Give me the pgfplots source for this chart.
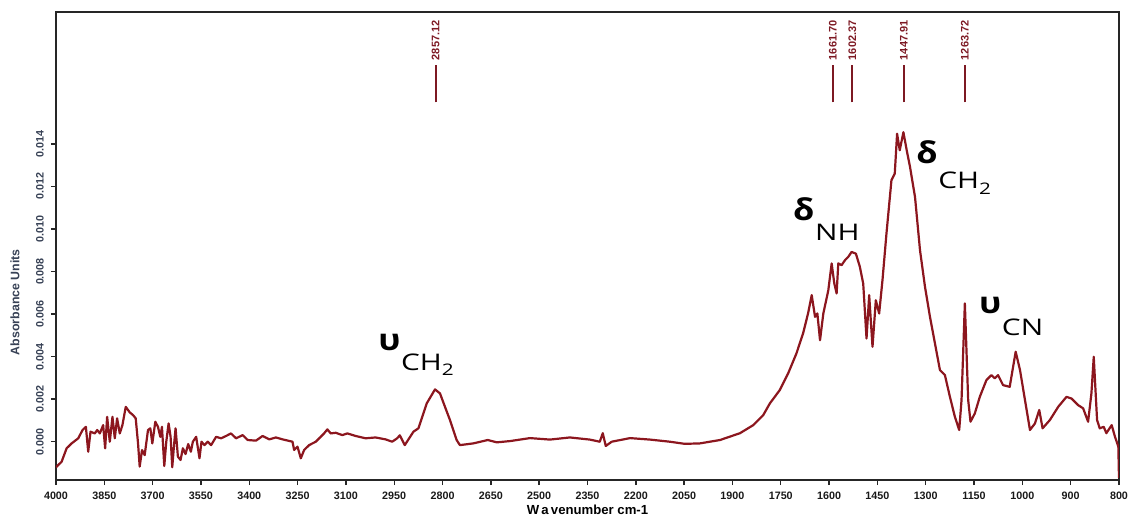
\documentclass[border=0pt]{standalone}
\usepackage{graphicx}
\usepackage{pgfplots}
\pgfplotsset{compat=1.18}
\usepackage{fontspec}
\setmainfont{Liberation Sans}
\newfontfamily\annfont{Open Sans}
\definecolor{spec}{RGB}{140,22,30}
\definecolor{pk}{RGB}{125,25,35}
\definecolor{slate}{RGB}{55,65,85}
\newcommand{\sub}[1]{\raisebox{-2.8bp}{\fontsize{8}{8}\selectfont #1}}
\newcommand{\ann}[3]{\scalebox{1.15}[1]{\annfont\fontsize{15}{15}\selectfont\bfseries #1}\hspace{0.3bp}\raisebox{-#3}{\scalebox{1.3}[1]{\annfont\fontsize{11.5}{11.5}\selectfont #2}}}
\begin{document}
\begin{tikzpicture}
\begin{axis}[
  at={(0,0)}, anchor=south west,
  scale only axis, width=531.5bp, height=234bp,
  x dir=reverse, xmin=800, xmax=4000,
  ymin=-0.0018, ymax=0.0202,
  axis line style={draw=black!85, line width=0.9bp},
  tick align=outside,
  major tick length=2.6bp, minor tick length=2bp,
  tick style={black!85, line width=0.7bp},
  xtick pos=bottom, ytick pos=left,
  xtick={4000,3854.55,3709.09,3563.64,3418.18,3272.73,3127.27,2981.82,2836.36,2690.91,2545.45,2400,2254.55,2109.09,1963.64,1818.18,1672.73,1527.27,1381.82,1236.36,1090.91,945.45,800},
  xticklabels={4000,3850,3700,3550,3400,3250,3100,2950,2800,2650,2500,2350,2200,2050,1900,1750,1600,1450,1300,1150,1000,900,800},
  minor x tick num=2,
  ytick={0,0.002,0.004,0.006,0.008,0.010,0.012,0.014},
  scaled y ticks=false,
  yticklabel style={/pgf/number format/fixed, /pgf/number format/fixed zerofill, /pgf/number format/precision=3, rotate=90, anchor=south, color=slate},
  /pgf/number format/assume math mode=true,
  every tick label/.append style={font=\fontsize{5.4}{6}\selectfont\bfseries},
  xticklabel style={color=black!90},
  xlabel={W\,a\,venumber cm-1},
  xlabel style={at={(axis description cs:0.5,-0.0635)}, anchor=center, font=\fontsize{6.6}{7}\selectfont\bfseries},
  ylabel={Absorbance Units},
  ylabel style={at={(axis description cs:-0.0385,0.38)}, anchor=center, color=slate, font=\fontsize{6.2}{7}\selectfont\bfseries},
  clip=true,
]
\addplot[spec, line width=1.1bp, line join=round] table {
4000 -0.0012
3998 -0.00117
3983 -0.00094
3968 -0.00031
3953 -0.00008
3933 0.00016
3920 0.00055
3910 0.0007
3903 -0.00047
3896 0.00047
3883 0.00039
3876 0.00055
3868 0.00039
3858 0.00078
3852 -0.00031
3846 0.00117
3838 0.0
3830 0.00117
3823 0.00016
3816 0.0011
3808 0.00039
3800 0.00078
3790 0.00164
3778 0.00138
3768 0.00125
3760 0.0011
3753 -0.00008
3748 -0.00117
3741 -0.00039
3733 -0.00063
3723 0.00055
3716 0.00063
3710 -0.00008
3701 0.00094
3693 0.0007
3686 0.00023
3681 0.0007
3674 -0.00114
3668 0.0
3661 0.00086
3655 0.00023
3650 -0.0012
3645 -0.00023
3640 0.00063
3633 -0.0007
3625 -0.00086
3618 -0.00031
3610 -0.00058
3602 -0.00011
3594 -0.00047
3588 0.0
3578 0.00023
3568 -0.00078
3562 0.0
3553 -0.00016
3543 0.0
3533 -0.00016
3518 0.00023
3503 0.00016
3488 0.00027
3473 0.00039
3458 0.00016
3438 0.00031
3423 0.00008
3398 0.00005
3378 0.00027
3358 0.00011
3338 0.0002
3318 0.00011
3288 0.0
3283 -0.00039
3273 -0.00023
3263 -0.00078
3253 -0.00039
3238 -0.00016
3218 0.0
3203 0.00023
3193 0.00039
3183 0.00058
3173 0.00039
3158 0.00042
3138 0.00031
3123 0.00039
3098 0.00027
3068 0.00016
3038 0.0002
3008 0.00011
2988 0.0
2973 0.00016
2965 0.0003
2950 -0.00016
2924 0.00047
2909 0.00063
2884 0.0018
2859 0.00246
2844 0.00227
2829 0.00164
2814 0.00102
2794 0.00008
2784 -0.00016
2744 -0.00008
2700 0.00008
2673 -0.00003
2633 0.00003
2573 0.00017
2513 0.0001
2453 0.0002
2393 0.0001
2363 0.0
2354 0.0004
2345 -0.0002
2327 0.0
2272 0.00017
2212 0.0001
2152 0.0
2107 -0.0001
2062 -0.00008
2001 0.00008
1941 0.0004
1901 0.00078
1871 0.00125
1851 0.0018
1821 0.00243
1796 0.00321
1771 0.00415
1751 0.00509
1736 0.00603
1725 0.00689
1715 0.00587
1708 0.00603
1700 0.00477
1690 0.00603
1675 0.00712
1665 0.00838
1657 0.00744
1650 0.00697
1645 0.00838
1635 0.0083
1625 0.00853
1615 0.00869
1605 0.00892
1592 0.00884
1580 0.00822
1570 0.00744
1560 0.00485
1552 0.00689
1542 0.00446
1532 0.00665
1522 0.00603
1512 0.00759
1500 0.00978
1485 0.01229
1475 0.0126
1468 0.01448
1460 0.0137
1449 0.01455
1439 0.0137
1429 0.01291
1414 0.0115
1399 0.009
1384 0.00728
1369 0.00587
1354 0.00462
1339 0.00337
1324 0.00313
1309 0.00211
1294 0.00117
1281 0.00055
1274 0.00196
1264 0.0065
1254 0.00196
1247 0.00094
1234 0.00133
1219 0.00211
1199 0.0029
1184 0.00313
1174 0.00298
1164 0.00313
1149 0.00266
1129 0.00258
1111 0.00423
1098 0.00337
1083 0.00196
1068 0.00055
1053 0.00086
1040 0.00149
1030 0.00063
1008 0.00102
983 0.00164
958 0.00211
943 0.00203
923 0.00172
908 0.00157
893 0.00094
883 0.00227
876 0.00399
866 0.00102
858 0.00063
846 0.0007
838 0.0004
822 0.00078
812 0.00023
802 -0.00023
800 -0.0017
};
% peak markers
\draw[pk, line width=1bp] (axis cs:2857.12,0.01595) -- (axis cs:2857.12,0.01769);
\draw[pk, line width=1bp] (axis cs:1661.70,0.01595) -- (axis cs:1661.70,0.01769);
\draw[pk, line width=1bp] (axis cs:1602.37,0.01595) -- (axis cs:1602.37,0.01769);
\draw[pk, line width=1bp] (axis cs:1447.91,0.01595) -- (axis cs:1447.91,0.01769);
\draw[pk, line width=1bp] (axis cs:1263.72,0.01595) -- (axis cs:1263.72,0.01769);
\begin{scope}[every node/.style={rotate=90, anchor=west, inner sep=0pt, text=pk, font=\fontsize{5.5}{6}\selectfont\bfseries}]
\node at (axis cs:2857.12,0.01792) {2857.12};
\node at (axis cs:1661.70,0.01792) {1661.70};
\node at (axis cs:1602.37,0.01792) {1602.37};
\node at (axis cs:1447.91,0.01792) {1447.91};
\node at (axis cs:1263.72,0.01792) {1263.72};
\end{scope}
% band annotations
\node[anchor=base west, inner sep=0pt] at (axis cs:3031,0.0043) {\ann{υ}{CH\sub{2}}{10bp}};
\node[anchor=base west, inner sep=0pt] at (axis cs:1782,0.01041) {\ann{δ}{NH}{10bp}};
\node[anchor=base west, inner sep=0pt] at (axis cs:1411,0.01308) {\ann{δ}{CH\sub{2}}{12.5bp}};
\node[anchor=base west, inner sep=0pt] at (axis cs:1222,0.00604) {\ann{υ}{CN}{11bp}};
\end{axis}
\pgfresetboundingbox
\useasboundingbox (-28bp,-18.5bp) rectangle (538bp,240bp);
\end{tikzpicture}
\end{document}
